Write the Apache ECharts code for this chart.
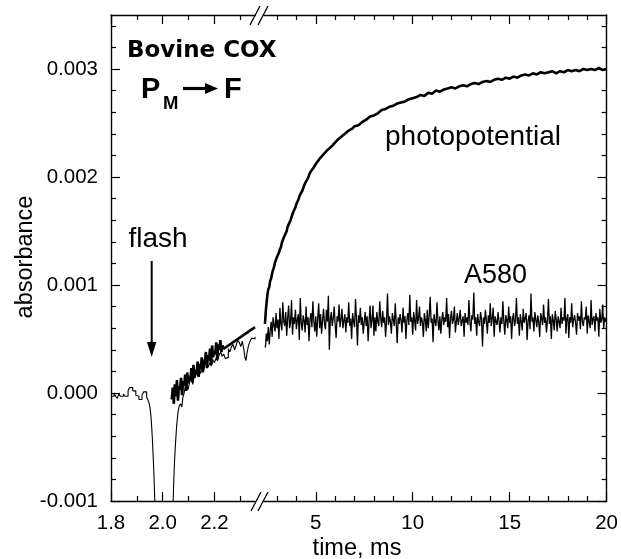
<!DOCTYPE html>
<html><head><meta charset="utf-8">
<script src="https://cdn.jsdelivr.net/npm/echarts@6/dist/echarts.min.js"></script>
<style>html,body{margin:0;padding:0;background:#fff}#c{width:621px;height:559px}</style>
</head><body><div id="c"></div>
<script>
// All absorbance values are in units of 1e-5 absorbance (e.g. 68 = 0.00068).

// ---- tick labels / tick positions ----
const leftXMajor = [1.8, 2.0, 2.2];
const leftXMinor = [1.9, 2.1, 2.3];
const rightXMajor = [5, 10, 15, 20];
const rightXMinor = [3, 4, 6, 7, 8, 9, 11, 12, 13, 14, 16, 17, 18, 19];
const yMajor = [-100, 0, 100, 200, 300];
const yMinor = [-80, -60, -40, -20, 20, 40, 60, 80, 120, 140, 160, 180, 220, 240, 260, 280, 320, 340];

// ---- A580, early (high-resolution) segment: [time ms, absorbance x1e5] ----
const a580Left = [
  [1.800,-3],[1.806,-3],[1.812,0],[1.818,-3],[1.824,-5],[1.830,-1],[1.836,-3],[1.842,-3],
  [1.848,-1],[1.854,-3],[1.860,-3],[1.866,2],[1.872,5],[1.878,5],[1.884,2],[1.890,2],
  [1.896,-2],[1.902,-3],[1.908,-6],[1.914,-6],[1.920,-2],[1.926,1],[1.932,1],[1.938,-4],
  [1.944,-7],[1.948,-10],[1.951,-14],[1.954,-20],[1.957,-30],[1.960,-42],[1.963,-58],
  [1.966,-75],[1.968,-90],[1.970,-105],[1.972,-130],[2.037,-130],
  [2.039,-110],[2.041,-95],[2.043,-80],[2.046,-62],[2.050,-45],[2.054,-30],[2.059,-18],
  [2.064,-12],[2.069,-10],[2.074,-13],[2.078,-4],[2.082,-1],
  [2.086,4],[2.092,9],[2.098,3],[2.104,10],[2.110,14],[2.116,8],[2.122,15],[2.128,20],
  [2.134,16],[2.140,22],[2.146,18],[2.152,24],[2.158,20],[2.164,27],[2.170,29],[2.176,24],
  [2.182,28],[2.188,25],[2.194,31],[2.200,28],[2.206,32],[2.212,30],[2.218,35],[2.224,38],
  [2.230,34],[2.236,36],[2.242,32],[2.248,33],[2.254,41],[2.260,38],[2.266,43],[2.272,45],
  [2.278,40],[2.284,44],[2.290,49],[2.296,47],[2.302,43],[2.308,48],[2.314,40],[2.318,33],
  [2.322,30],[2.326,37],[2.332,44],[2.338,48],[2.344,51],[2.350,50],[2.357,52]
];

// ---- photopotential, early segment (sampled every 4 us from 2.035 ms), then fit line ----
const photoLeftStart = 2.035, photoLeftStep = 0.004;
const photoLeftValues = [
  -6, 5, -10, 8, -3, 12, -7, 6, 3, 14,
  -2, 11, 7, 17, 2, 19, 9, 15, 12, 23,
  10, 26, 14, 21, 18, 29, 15, 27, 22, 33,
  19, 31, 27, 38, 23, 35, 30, 41, 26, 44,
  33, 39, 36, 47, 31, 45, 40, 49, 38, 44
];
const photoLeftFit = [[2.236, 41], [2.357, 61]];

// ---- photopotential, late segment: [time ms, absorbance x1e5] ----
const photoRight = [
  [2.38,64],[2.42,75],[2.46,83],[2.50,90],[2.55,96],[2.60,98],[2.65,104],[2.70,106],[2.75,111],
  [2.80,114],[2.85,117],[2.90,121],[2.95,122],[3.00,126],[3.05,128],[3.10,130],[3.15,133],
  [3.20,135],[3.25,139],[3.30,140],[3.35,144],[3.40,145],[3.45,148],[3.50,150],[3.55,154],
  [3.60,155],[3.65,158],[3.70,160],[3.75,163],[3.80,164],[3.85,168],[3.90,169],[3.95,172],
  [4.00,175],[4.10,179],[4.20,184],[4.30,187],[4.40,192],[4.50,196],[4.60,199],[4.70,204],
  [4.80,205],[4.90,209],[5.00,212],[5.10,213],[5.20,217],[5.30,218],[5.40,221],[5.50,222],
  [5.60,225],[5.70,226],[5.80,228],[5.90,230],[6.00,231],[6.10,234],[6.20,233],[6.30,237],
  [6.40,238],[6.50,240],[6.60,239],[6.70,243],[6.80,244],[6.90,245],[7.00,247],[7.20,248],
  [7.40,251],[7.60,253],[7.80,256],[8.00,257],[8.20,259],[8.40,262],[8.60,263],[8.80,265],
  [9.00,266],[9.20,268],[9.40,269],[9.60,270],[9.80,272],[10.00,273],[10.20,274],[10.40,276],
  [10.60,275],[10.80,278],[11.00,277],[11.20,280],[11.40,279],[11.60,281],[11.80,282],
  [12.00,283],[12.20,282],[12.40,284],[12.60,285],[12.80,284],[13.00,286],[13.20,287],
  [13.40,286],[13.60,288],[13.80,289],[14.00,288],[14.20,290],[14.40,291],[14.60,290],
  [14.80,292],[15.00,291],[15.20,293],[15.40,292],[15.60,294],[15.80,295],[16.00,294],
  [16.20,296],[16.40,295],[16.60,297],[16.80,296],[17.00,297],[17.20,298],[17.40,296],
  [17.60,298],[17.80,297],[18.00,299],[18.20,298],[18.40,299],[18.60,298],[18.80,300],
  [19.00,299],[19.20,300],[19.40,299],[19.60,301],[19.80,299],[20.00,300]
];

// ---- A580, late segment (sampled every 50 us from 2.4 ms) ----
const a580RightStart = 2.4, a580RightStep = 0.05;
const a580RightValues = [
  42, 55, 48, 61, 45, 58, 66, 52, 70, 63, 57, 74, 60, 68, 50, 79, 64, 58, 84, 66,
  62, 75, 53, 69, 81, 60, 66, 86, 54, 70, 64, 77, 59, 68, 73, 49, 88, 65, 58, 72,
  67, 56, 80, 63, 70, 48, 68, 74, 61, 85, 66, 57, 71, 52, 69, 83, 60, 73, 55, 67,
  78, 64, 59, 77, 66, 90, 40, 68, 75, 62, 69, 80, 63, 51, 71, 66, 82, 61, 68, 78,
  60, 67, 73, 56, 70, 65, 84, 62, 69, 50, 74, 66, 61, 87, 68, 44, 72, 65, 79, 63,
  70, 55, 66, 75, 62, 71, 48, 67, 81, 60, 68, 81, 53, 70, 57, 75, 66, 62, 85, 69,
  61, 76, 65, 70, 52, 67, 92, 63, 71, 66, 55, 74, 68, 62, 83, 65, 46, 70, 64, 73,
  67, 56, 79, 65, 71, 50, 68, 74, 63, 91, 66, 70, 54, 75, 67, 58, 86, 64, 69, 80,
  62, 70, 66, 52, 74, 68, 57, 77, 60, 71, 89, 65, 69, 47, 73, 66, 62, 84, 67, 58,
  71, 55, 68, 75, 63, 70, 66, 88, 61, 73, 51, 69, 76, 64, 68, 80, 56, 66, 74, 63,
  69, 77, 62, 67, 71, 52, 74, 65, 70, 63, 86, 66, 57, 72, 68, 93, 64, 70, 53, 73,
  66, 62, 75, 68, 43, 70, 64, 77, 67, 55, 72, 65, 83, 62, 69, 79, 52, 71, 66, 63,
  75, 67, 56, 70, 64, 85, 66, 54, 72, 68, 60, 80, 65, 71, 50, 69, 74, 62, 67, 88,
  64, 70, 53, 73, 66, 58, 78, 65, 69, 74, 49, 67, 72, 59, 92, 66, 70, 57, 75, 68,
  61, 72, 66, 52, 74, 69, 63, 82, 65, 70, 56, 68, 87, 64, 71, 50, 73, 67, 58, 76,
  68, 57, 71, 66, 60, 79, 64, 70, 67, 88, 55, 69, 73, 51, 70, 65, 83, 61, 68, 72,
  65, 54, 74, 67, 71, 59, 85, 66, 62, 70, 68, 80, 55, 72, 66, 60, 86, 63, 69, 71,
  57, 74, 67, 70, 52, 78, 65, 68, 82, 60, 70, 66, 69
];

// ---------------------------------------------------------------
const FONT = '"Liberation Sans", Arial, Helvetica, sans-serif';
const BLACK = '#000';
const sampled = (t0, dt, vals) => vals.map((v, i) => [+(t0 + i * dt).toFixed(4), v]);

const TOP = 15, HEIGHT = 486;
const grids = [
  { left: 111, top: TOP, width: 144, height: HEIGHT },
  { left: 264, top: TOP, width: 344, height: HEIGHT }
];
const xRanges = [[1.8, 2.357], [2.33, 20]];

const xAxes = [], yAxes = [];
function addX(g, position, ticks, len, showLine, labels, fmt) {
  xAxes.push({
    type: 'value', gridIndex: g, position, min: xRanges[g][0], max: xRanges[g][1],
    axisLine: { show: showLine, onZero: false, lineStyle: { color: BLACK, width: 1.4 } },
    axisTick: { show: true, inside: true, length: len, customValues: ticks, lineStyle: { color: BLACK, width: 1.2 } },
    axisLabel: labels ? { show: true, customValues: labels, margin: 12, fontSize: 20.5, fontFamily: FONT, color: BLACK, formatter: fmt } : { show: false },
    splitLine: { show: false }
  });
  return xAxes.length - 1;
}
function addY(g, position, ticks, len, showLine, labels) {
  yAxes.push({
    type: 'value', gridIndex: g, position, min: -100, max: 350,
    axisLine: { show: showLine, onZero: false, lineStyle: { color: BLACK, width: 1.4 } },
    axisTick: { show: true, inside: true, length: len, customValues: ticks, lineStyle: { color: BLACK, width: 1.2 } },
    axisLabel: labels ? { show: true, customValues: labels, margin: 13, fontSize: 20.5, fontFamily: FONT, color: BLACK,
      formatter: v => (v / 1e5).toFixed(3) } : { show: false },
    splitLine: { show: false }
  });
  return yAxes.length - 1;
}
const fmtLeft = v => v.toFixed(1);
const fmtRight = v => String(v);

const xL = addX(0, 'bottom', leftXMajor, 9, true, leftXMajor, fmtLeft);
addX(0, 'bottom', leftXMinor, 5, false);
addX(0, 'top', leftXMajor, 9, true);
addX(0, 'top', leftXMinor, 5, false);
const xR = addX(1, 'bottom', rightXMajor, 9, true, rightXMajor, fmtRight);
addX(1, 'bottom', rightXMinor, 5, false);
addX(1, 'top', rightXMajor, 9, true);
addX(1, 'top', rightXMinor, 5, false);

const yL = addY(0, 'left', yMajor, 9, true, yMajor);
addY(0, 'left', yMinor, 5, false);
const yR = addY(1, 'right', yMajor, 9, true);
addY(1, 'right', yMinor, 5, false);

const thin = { color: BLACK, width: 1.1 };
const thick = { color: BLACK, width: 2.6 };
const series = [
  { name: 'A580', type: 'line', xAxisIndex: xL, yAxisIndex: yL, data: a580Left, step: 'end',
    showSymbol: false, lineStyle: thin, z: 2 },
  { name: 'photopotential', type: 'line', xAxisIndex: xL, yAxisIndex: yL,
    data: sampled(photoLeftStart, photoLeftStep, photoLeftValues).concat(photoLeftFit),
    showSymbol: false, lineStyle: thick, z: 3 },
  { name: 'A580', type: 'line', xAxisIndex: xR, yAxisIndex: yR,
    data: sampled(a580RightStart, a580RightStep, a580RightValues),
    showSymbol: false, lineStyle: { color: BLACK, width: 1.3 }, z: 2 },
  { name: 'photopotential', type: 'line', xAxisIndex: xR, yAxisIndex: yR, data: photoRight,
    showSymbol: false, lineStyle: thick, z: 3 }
];

const txt = (x, y, text, font, align, extra) => Object.assign({
  type: 'text', x, y, z: 10,
  style: { text, font, fill: BLACK, align: align || 'left', verticalAlign: 'middle' }
}, extra || {});
const seg = (x1, y1, x2, y2, w) => ({ type: 'line', z: 10, shape: { x1, y1, x2, y2 }, style: { stroke: BLACK, lineWidth: w } });

const graphic = [
  txt(127, 51, 'Bovine COX', 'bold 23px "DejaVu Sans", sans-serif'),
  txt(141, 90, 'P', 'bold 29px ' + FONT),
  txt(163, 103.5, 'M', 'bold 18.5px ' + FONT),
  seg(183, 88.5, 208, 88.5, 3.2),
  { type: 'polygon', z: 10, shape: { points: [[205, 83], [218, 88.5], [205, 94]] }, style: { fill: BLACK } },
  txt(224, 90, 'F', 'bold 29px ' + FONT),
  txt(158, 239, 'flash', '28px ' + FONT, 'center'),
  seg(151.7, 261, 151.7, 346, 2),
  { type: 'polygon', z: 10, shape: { points: [[147, 342], [151.7, 357], [156.4, 342]] }, style: { fill: BLACK } },
  txt(385, 137, 'photopotential', '28px ' + FONT),
  txt(464, 276, 'A580', '27px ' + FONT),
  txt(357, 549, 'time, ms', '23.5px ' + FONT, 'center'),
  txt(26, 257, 'absorbance', '23.5px ' + FONT, 'center', { rotation: Math.PI / 2 }),
  // axis-break marks
  seg(250, 25, 260, 6, 1.3), seg(258, 25, 268, 6, 1.3),
  seg(251, 511, 261, 492, 1.3), seg(258, 511, 268, 492, 1.3)
];

const chart = echarts.init(document.getElementById('c'), null, { renderer: 'canvas' });
chart.setOption({
  animation: false,
  backgroundColor: '#fff',
  grid: grids,
  xAxis: xAxes,
  yAxis: yAxes,
  series,
  graphic
});
</script></body></html>
